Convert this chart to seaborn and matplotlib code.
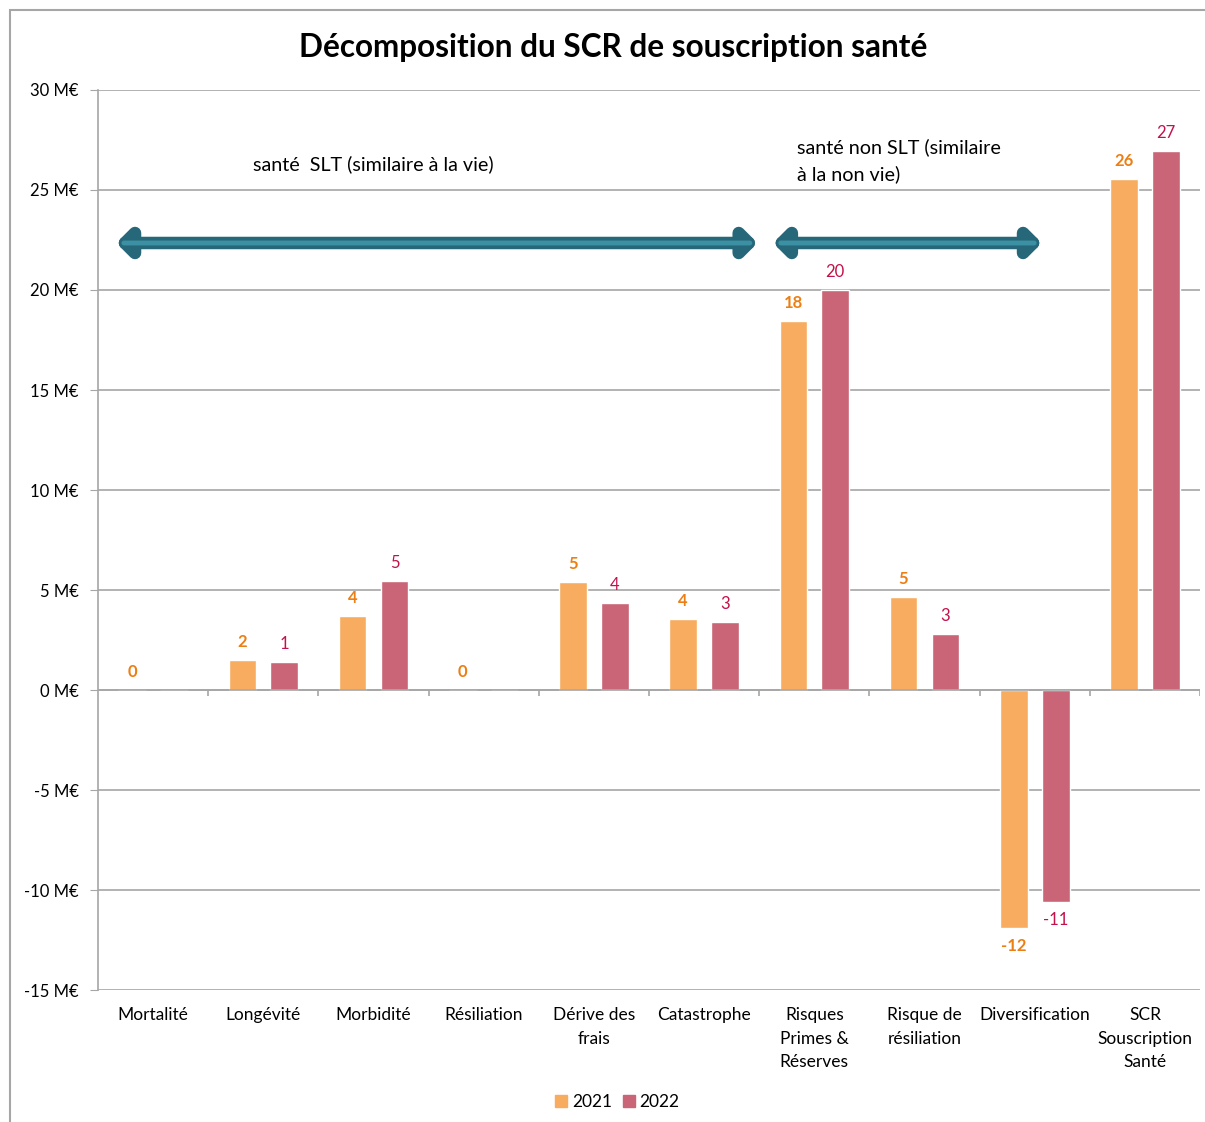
import numpy as np
import pandas as pd
import matplotlib
matplotlib.use('Agg')
import matplotlib.pyplot as plt
import seaborn as sns
from matplotlib.patches import FancyArrowPatch, Rectangle
from matplotlib.ticker import FuncFormatter, MultipleLocator

CATEGORIES = ['Mortalité', 'Longévité', 'Morbidité', 'Résiliation', 'Dérive des\nfrais',
              'Catastrophe', 'Risques\nPrimes &\nRéserves', 'Risque de\nrésiliation',
              'Diversification', 'SCR\nSouscription\nSanté']
VALUES_2021 = [0.0, 1.5, 3.7, 0.0, 5.4, 3.55, 18.45, 4.65, -11.9, 25.55]
VALUES_2022 = [0.0, 1.4, 5.45, 0.0, 4.35, 3.4, 20.0, 2.8, -10.6, 26.95]
LABELS_2021 = ['0', '2', '4', '0', '5', '4', '18', '5', '-12', '26']
LABELS_2022 = ['', '1', '5', '', '4', '3', '20', '3', '-11', '27']
YEARS = ['2021', '2022']
COLORS = {'2021': '#f7ac5f', '2022': '#c96576'}
LABEL_COLORS = {'2021': '#ec7f13', '2022': '#c2124a'}

df = pd.DataFrame({'cat': CATEGORIES, '2021': VALUES_2021, '2022': VALUES_2022})
df = df.melt(id_vars='cat', var_name='year', value_name='val')

sns.set_style('white')
plt.rcParams['font.family'] = ['Lato', 'DejaVu Sans']
plt.rcParams['text.color'] = 'black'
plt.rcParams['xtick.color'] = 'black'
plt.rcParams['ytick.color'] = 'black'

fig = plt.figure(figsize=(12.05, 11.22), dpi=100)
ax = fig.add_axes([0.0813, 0.1176, 0.9146, 0.8022])

sns.barplot(data=df, x='cat', y='val', hue='year', palette=COLORS,
            width=0.76, gap=0.34, ax=ax, legend=False, saturation=1)

for cont, year, labels in zip(ax.containers, YEARS, [LABELS_2021, LABELS_2022]):
    ax.bar_label(cont, labels=labels, padding=7, fontsize=12,
                 color=LABEL_COLORS[year],
                 fontweight='bold' if year == '2021' else 'normal')

ax.set_ylim(-15, 30)
ax.set_xlim(-0.5, len(CATEGORIES) - 0.5)
ax.yaxis.set_major_locator(MultipleLocator(5))
ax.yaxis.set_major_formatter(FuncFormatter(lambda v, p: f'{v:.0f} M€'))
ax.grid(axis='y', color='#a6a6a6', linewidth=1.2)
ax.set_axisbelow(True)
for s in ['top', 'right', 'bottom']:
    ax.spines[s].set_visible(False)
ax.spines['left'].set_color('#a6a6a6')
ax.spines['left'].set_linewidth(1.2)
ax.tick_params(axis='y', left=True, length=6, color='#a6a6a6', labelsize=12, pad=8)
ax.tick_params(axis='x', bottom=False, labelsize=12.5, pad=9)
for lbl in ax.get_xticklabels():
    lbl.set_linespacing(1.55)
    lbl.set_verticalalignment('top')
ax.set_xlabel('')
ax.set_ylabel('')

# zero axis with tick marks between categories
ax.axhline(0, color='#a6a6a6', linewidth=1.2, zorder=1)
bounds = np.arange(0.5, len(CATEGORIES), 1.0)
ax.vlines(bounds, -0.3, 0, color='#a6a6a6', linewidth=1.2)

fig.suptitle('Décomposition du SCR de souscription santé', fontsize=22.7,
             fontweight='bold', x=0.509, y=0.958, va='center')

# group arrows
for x0, x1 in [(-0.36, 5.51), (5.6, 8.09)]:
    a1 = FancyArrowPatch((x0, 22.35), (x1, 22.35), arrowstyle='<|-|>,head_length=0.6,head_width=0.6',
                         color='#26687a', linewidth=9, mutation_scale=12, zorder=5)
    ax.add_patch(a1)
    a2 = FancyArrowPatch((x0 + 0.07, 22.35), (x1 - 0.07, 22.35), arrowstyle='-',
                         color='#3c90a3', linewidth=3.5, zorder=6)
    ax.add_patch(a2)

ax.text(0.91, 26.3, 'santé  SLT (similaire à la vie)', fontsize=14.2, va='center')
ax.text(5.84, 26.45, 'santé non SLT (similaire\nà la non vie)', fontsize=14.2, va='center',
        linespacing=1.6)

# legend
handles = [plt.Line2D([], [], marker='s', linestyle='', markersize=9,
                      color=COLORS[y]) for y in YEARS]
fig.legend(handles, YEARS, loc='center', bbox_to_anchor=(0.512, 0.018), ncol=2,
           frameon=False, fontsize=12.5, handlelength=0.8, handletextpad=0.2,
           columnspacing=0.6)

# outer chart frame
fig.add_artist(Rectangle((0.0083, -0.05), 1.2, 1.041, transform=fig.transFigure,
                         fill=False, edgecolor='#a6a6a6', linewidth=1.5))

fig.savefig('out.png', dpi=100)
